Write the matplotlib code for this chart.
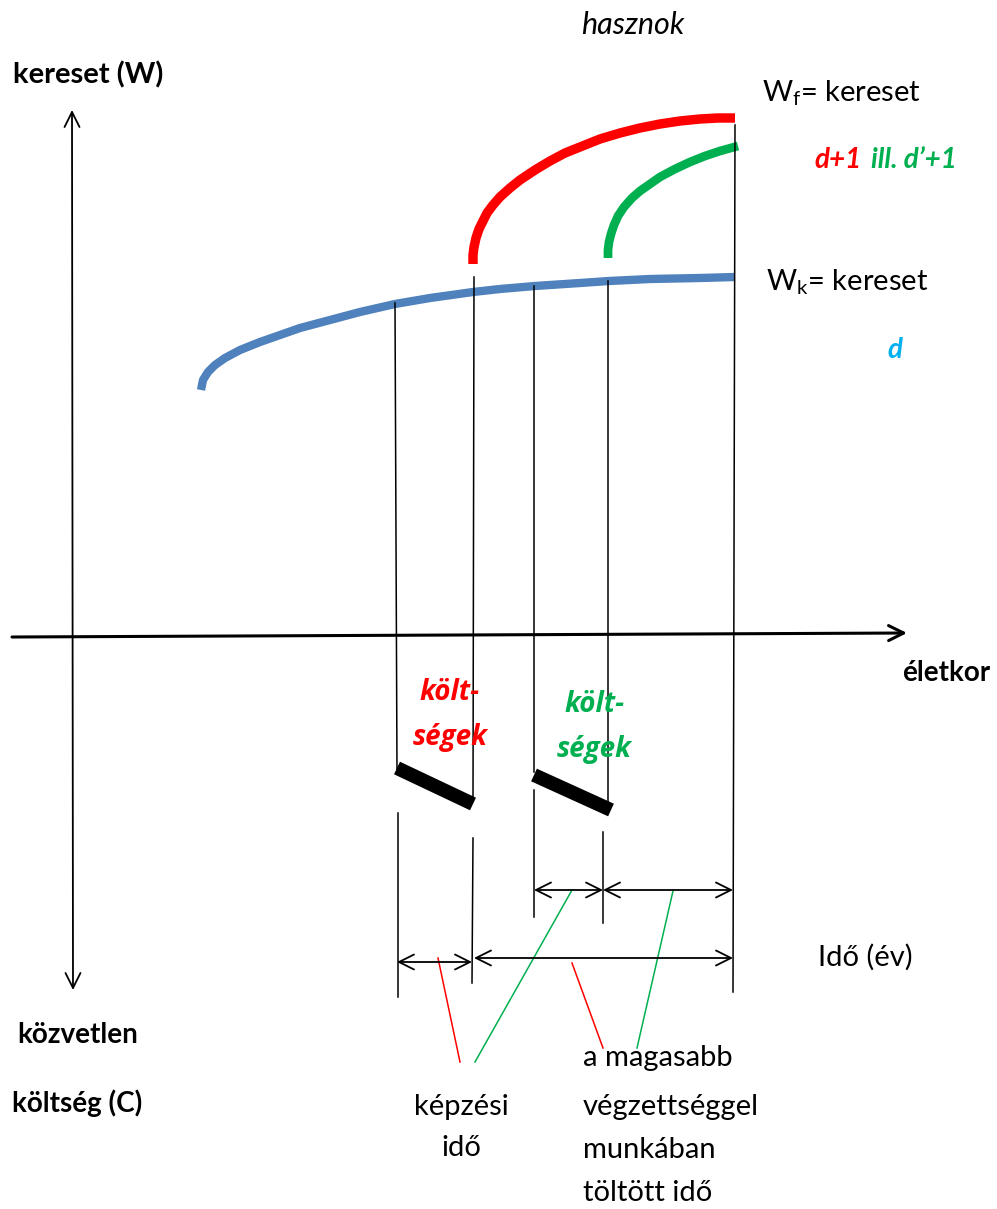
import numpy as np
import matplotlib.pyplot as plt

# Curve points (pixel coordinates, y grows downwards).
blueX = [201, 203, 208, 215, 225, 240, 260, 280, 300, 330, 360, 395, 430, 473, 500, 535, 580, 609, 650, 700, 735]
blueY = [390, 380, 372, 365, 358, 350, 342, 335, 328, 320, 312, 304, 298, 292, 289, 286, 283, 281, 279, 278, 277]

redX = [473, 473, 474, 476, 479, 483, 487, 493, 500, 510, 520, 535, 550, 565, 580, 600, 620, 640, 660, 680, 700, 718, 735]
redY = [264, 255, 247, 238, 229, 221, 213, 205, 197, 188, 180, 170, 161, 153, 147, 139, 133, 128, 124, 121, 119, 118, 118]

greenX = [608, 608, 609, 611, 614, 618, 624, 632, 640, 650, 660, 675, 690, 705, 720, 738]
greenY = [258, 250, 242, 234, 225, 216, 207, 198, 191, 184, 177, 169, 162, 156, 151, 146]

# Age markers (start/end of training and work periods).
markX = [397, 473, 534, 607, 735]

RED = '#FF0000'
GREEN = '#00B050'
BLUE = '#4F81BD'
CYAN = '#00B0F0'

plt.rcParams['font.family'] = ['Lato', 'DejaVu Sans']
plt.rcParams['mathtext.fontset'] = 'custom'
plt.rcParams['mathtext.rm'] = 'Lato'

fig = plt.figure(figsize=(9.97, 12.09), dpi=100)
ax = fig.add_axes([0, 0, 1, 1])
ax.set_xlim(0, 997)
ax.set_ylim(1209, 0)
ax.axis('off')

# Earnings curves.
ax.plot(blueX, blueY, color=BLUE, linewidth=6.0, solid_capstyle='butt', solid_joinstyle='round')
ax.plot(redX, redY, color=RED, linewidth=6.8, solid_capstyle='butt', solid_joinstyle='round')
ax.plot(greenX, greenY, color=GREEN, linewidth=6.3, solid_capstyle='butt', solid_joinstyle='round')

# Axes with arrows.
ax.annotate('', xy=(72, 110), xytext=(73, 990),
            arrowprops=dict(arrowstyle='<->', color='black', lw=1.3, mutation_scale=27,
                            shrinkA=0, shrinkB=0))
ax.annotate('', xy=(907, 633), xytext=(12, 637),
            arrowprops=dict(arrowstyle='->', color='black', lw=2.2, mutation_scale=27,
                            shrinkA=0, shrinkB=0))

# Vertical marker lines: upper and lower pieces.
thin = dict(color='black', linewidth=1.1)
ax.plot([395, 397], [303, 772], **thin)
ax.plot([398, 398], [813, 997], **thin)
ax.plot([474, 473], [277, 798], **thin)
ax.plot([473, 472], [838, 983], **thin)
ax.plot([534, 534], [286, 772], **thin)
ax.plot([534, 534], [790, 917], **thin)
ax.plot([608, 608], [281, 803], **thin)
ax.plot([603, 603], [832, 923], **thin)
ax.plot([735, 733], [125, 992], **thin)

# Cost bars.
ax.plot([397, 473], [768, 804], color='black', linewidth=10, solid_capstyle='butt')
ax.plot([534, 611], [775, 810], color='black', linewidth=10, solid_capstyle='butt')

# Time span arrows.
def span(x0, x1, y):
    ax.annotate('', xy=(x1, y), xytext=(x0, y),
                arrowprops=dict(arrowstyle='<->', color='black', lw=1.3, mutation_scale=27,
                                shrinkA=0, shrinkB=0))

span(markX[2], 603, 890)
span(603, 733, 890)
span(markX[0], 472, 962)
span(474, 733, 958)

# Leader lines.
ax.plot([438, 460], [958, 1062], color=RED, linewidth=1.1)
ax.plot([572, 475], [890, 1062], color=GREEN, linewidth=1.1)
ax.plot([572, 603], [963, 1048], color=RED, linewidth=1.1)
ax.plot([673, 637], [891, 1048], color=GREEN, linewidth=1.1)

# Labels.
fs = 21
fb = 20
ax.text(633, 25, 'hasznok', fontsize=22, style='italic', ha='center', va='center')
ax.text(13, 75, 'kereset (W)', fontsize=21, fontweight='bold', ha='left', va='center')
ax.text(762, 93, r'W$_{\mathregular{f}}$= kereset', fontsize=fs, ha='left', va='center')
ax.text(862, 160, 'd+1', fontsize=fb, fontweight='bold', style='italic', color=RED,
        ha='right', va='center')
ax.text(871, 160, 'ill. d\u2019+1', fontsize=fb, fontweight='bold', style='italic', color=GREEN,
        ha='left', va='center')
ax.text(766, 282, r'W$_{\mathregular{k}}$= kereset', fontsize=fs, ha='left', va='center')
ax.text(895, 350, 'd', fontsize=fb, fontweight='bold', style='italic', color=CYAN,
        ha='center', va='center')
ax.text(990, 673, 'életkor', fontsize=fb, fontweight='bold', ha='right', va='center')

kw = dict(fontsize=fb, fontweight='bold', style='italic', family='Open Sans',
          ha='center', va='center')
ax.text(449, 692, 'költ-', color=RED, **kw)
ax.text(450, 738, 'ségek', color=RED, **kw)
ax.text(594, 705, 'költ-', color=GREEN, **kw)
ax.text(594, 750, 'ségek', color=GREEN, **kw)

ax.text(818, 957, 'Idő (év)', fontsize=fs, ha='left', va='center')
ax.text(17, 1035, 'közvetlen', fontsize=fb, fontweight='bold', ha='left', va='center')
ax.text(12, 1103, 'költség (C)', fontsize=fb, fontweight='bold', ha='left', va='center')

ax.text(461, 1107, 'képzési', fontsize=fs, ha='center', va='center')
ax.text(461, 1148, 'idő', fontsize=fs, ha='center', va='center')

for i, line in enumerate(['a magasabb', 'végzettséggel', 'munkában', 'töltött idő']):
    ax.text(583, [1058, 1107, 1150, 1193][i], line, fontsize=fs, ha='left', va='center')

fig.savefig('out.png', dpi=100)
